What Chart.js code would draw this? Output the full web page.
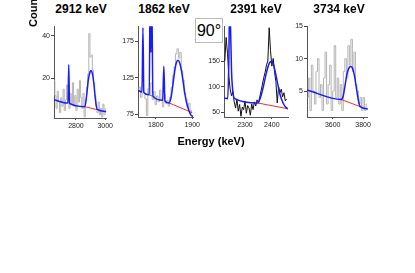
<!DOCTYPE html>
<html>
<head>
<meta charset="utf-8">
<script src="https://cdn.jsdelivr.net/npm/chart.js@4/dist/chart.umd.min.js"></script>
<style>
  body { margin: 0; background: #fff; width: 415px; height: 273px; position: relative; overflow: hidden;
         font-family: "Liberation Sans", Arial, sans-serif; }
  canvas { position: absolute; }
  .t { position: absolute; font-weight: bold; font-size: 12px; color: #000; white-space: nowrap; transform: translateX(-50%); }
</style>
</head>
<body>
<canvas id="p1"></canvas>
<canvas id="p2"></canvas>
<canvas id="p3"></canvas>
<canvas id="p4"></canvas>
<div class="t" style="left:81px;top:2px">2912 keV</div>
<div class="t" style="left:164px;top:2px">1862 keV</div>
<div class="t" style="left:256px;top:2px">2391 keV</div>
<div class="t" style="left:339px;top:2px">3734 keV</div>
<div class="t" style="left:211px;top:135px;font-size:11px">Energy (keV)</div>
<div class="t" style="left:33px;top:2px;font-size:11px;transform:translate(-50%,0) rotate(-90deg);transform-origin:50% 50%">Counts</div>
<div style="position:absolute;left:195px;top:18px;width:26px;height:23px;border:1px solid #bbb;background:#fff;
            font-size:16px;line-height:23px;text-align:center;color:#000">90&deg;</div>
<script>
// ---- panel 1 : 2912 keV ----
var start1 = 2652, binWidth1 = 8;
var counts1 = [19, 12, 6, 14, 9, 4, 11, 7, 15, 5, 10, 17, 9, 6, 13, 8, 18, 7, 12, 5,
               15, 9, 19, 11, 6, 13, 2, 10, 16, 22, 41, 30, 31, 24, 18, 12, 7, 4, 9, 3,
               6, 2, 8, 3, 6];
var fit1 = [[2650, 10], [2746, 8.5], [2751, 26.4], [2756, 8.3], [2861, 6.8], [2873, 11.8], [2885, 19.5],
            [2897, 23.2], [2903, 23.6], [2909, 23.2], [2921, 18.6], [2933, 10.5], [2945, 5.5], [3008, 4.5]];
var bg1 = [[2861, 6.8], [2945, 5.4]];
var xTicks1 = [2800, 3000];
var yTicks1 = [20, 40];

// ---- panel 2 : 1862 keV ----
var start2 = 1752, binWidth2 = 4;
var counts2 = [108, 112, 98, 115, 104, 96, 73, 110, 102, 118, 95, 106, 88, 100, 92, 108, 96, 85, 102, 90,
               94, 86, 98, 112, 128, 140, 158, 165, 152, 160, 135, 122, 104, 96, 84, 90, 76, 80];
var fit2 = [[1751, 107.7], [1762, 105.4], [1764.6, 194], [1767, 104.8], [1782, 101.5], [1784, 230], [1786.5, 160],
            [1789, 230], [1792, 99.7], [1819, 94], [1822, 141], [1825, 93], [1836.6, 90.3], [1841.5, 97],
            [1846.4, 113], [1851.2, 131.7], [1856.1, 145], [1861, 149], [1865.9, 145], [1870.8, 134],
            [1875.6, 118], [1880.5, 101], [1885.4, 89], [1890.3, 81], [1897.6, 73], [1903, 72]];
var bg2 = [[1836.6, 90.3], [1900, 77]];
var mid2 = [[1782, 101.5], [1796, 98.7]];
var xTicks2 = [1800, 1900];
var yTicks2 = [75, 125, 175];

// ---- panel 3 : 2391 keV ----
var start3 = 2225, binWidth3 = 5;
var counts3 = [150, 196, 165, 120, 95, 82, 90, 70, 58, 75, 52, 65, 42, 60, 55, 72, 48, 63, 58, 44,
               66, 55, 70, 62, 74, 68, 80, 92, 105, 118, 128, 142, 150, 215, 170, 140, 155, 128, 110, 68,
               100, 88, 95, 80, 88, 72, 76];
var fit3 = [[2222, 77.4], [2236, 76.5], [2240, 150], [2243, 260], [2247, 200], [2250, 130], [2254, 95],
            [2258, 80], [2264, 76], [2348, 68], [2359, 81], [2370, 104], [2381, 130], [2392, 147],
            [2400, 149], [2407, 141.5], [2418, 115], [2429, 87], [2440, 70], [2451, 60], [2460, 56.6]];
var bg3 = [[2348, 68], [2460, 56.6]];
var xTicks3 = [2300, 2400];
var yTicks3 = [50, 100, 150];

// ---- panel 4 : 3734 keV ----
var start4 = 3435, binWidth4 = 10;
var counts4 = [4, 7, 2, 9, 5, 3, 8, 10, 4, 6, 2, 7, 11, 3, 6, 9, 2, 5, 12, 4,
               7, 3, 6, 2, 8, 10, 7, 12, 9, 13, 8, 11, 6, 5, 3, 4, 2, 4, 2, 3];
var fit4 = [[3431, 5.15], [3656, 3.7], [3669, 4.2], [3681, 5.8], [3694, 7.6], [3706, 8.5], [3719, 8.8],
            [3731, 8.5], [3744, 7.3], [3756, 5.5], [3769, 3.6], [3781, 2.6], [3832, 2.25]];
var bg4 = [[3656, 3.7], [3781, 2.6]];
var xTicks4 = [3600, 3800];
var yTicks4 = [5, 10, 15];

var Y_W = 22, X_H = 16, PAD = 2;

function toPoints(start, width, counts) {
  return counts.map(function (c, i) { return { x: start + i * width, y: c }; });
}
function pairs(list) {
  return list.map(function (p) { return { x: p[0], y: p[1] }; });
}
function line(data, color, width, extra) {
  var ds = { data: data, borderColor: color, borderWidth: width, pointRadius: 0, fill: false };
  for (var k in extra) ds[k] = extra[k];
  return ds;
}
function plain(v) { return String(v); }

function makePanel(id, area, xr, yr, xTicks, yTicks, hist, histStyle, fit, bg, extra) {
  var cv = document.getElementById(id);
  cv.width = Y_W + (area.r - area.l) + PAD;
  cv.height = PAD + (area.b - area.t) + X_H;
  cv.style.left = (area.l - Y_W) + "px";
  cv.style.top = (area.t - PAD) + "px";

  var datasets = [
    line(pairs(fit), "#1a1aff", 1.5, { cubicInterpolationMode: "monotone" }),
    line(pairs(bg), "#ff2a2a", 1)
  ];
  if (extra) datasets.push(line(pairs(extra), "#22aa22", 1));
  datasets.push(line(hist, histStyle.color, histStyle.width, { stepped: histStyle.stepped }));

  new Chart(cv.getContext("2d"), {
    type: "line",
    data: { datasets: datasets },
    options: {
      responsive: false,
      animation: false,
      layout: { padding: { top: PAD, right: PAD, left: 0, bottom: 0 } },
      plugins: { legend: { display: false }, tooltip: { enabled: false } },
      scales: {
        x: {
          type: "linear", min: xr[0], max: xr[1],
          afterFit: function (s) { s.height = X_H; },
          afterBuildTicks: function (s) { s.ticks = xTicks.map(function (v) { return { value: v }; }); },
          grid: { drawOnChartArea: false, tickLength: 2, color: "#444" },
          border: { color: "#555", width: 1 },
          ticks: { color: "#222", font: { size: 7, family: "Liberation Sans" }, padding: 2, maxRotation: 0, callback: plain }
        },
        y: {
          type: "linear", min: yr[0], max: yr[1],
          afterFit: function (s) { s.width = Y_W; },
          afterBuildTicks: function (s) { s.ticks = yTicks.map(function (v) { return { value: v }; }); },
          grid: { drawOnChartArea: false, tickLength: 3, color: "#444" },
          border: { color: "#555", width: 1 },
          ticks: { color: "#222", font: { size: 7, family: "Liberation Sans" }, padding: 1, callback: plain }
        }
      }
    }
  });
}

var grayHist = { color: "#b4b4b4", width: 1, stepped: "middle" };
var blackHist = { color: "#111111", width: 1, stepped: false };

makePanel("p1", { l: 54, r: 113, t: 23, b: 118 }, [2650, 3008], [1.5, 44.5], xTicks1, yTicks1,
          toPoints(start1, binWidth1, counts1), grayHist, fit1, bg1);
makePanel("p2", { l: 138, r: 200, t: 23, b: 117 }, [1751, 1903], [71, 196], xTicks2, yTicks2,
          toPoints(start2, binWidth2, counts2), grayHist, fit2, bg2, mid2);
makePanel("p3", { l: 224, r: 288, t: 23, b: 117 }, [2222, 2460], [40.6, 218], xTicks3, yTicks3,
          toPoints(start3, binWidth3, counts3), blackHist, fit3, bg3);
makePanel("p4", { l: 307, r: 371, t: 23, b: 117 }, [3431, 3832], [1, 15], xTicks4, yTicks4,
          toPoints(start4, binWidth4, counts4), grayHist, fit4, bg4);
</script>
</body>
</html>
